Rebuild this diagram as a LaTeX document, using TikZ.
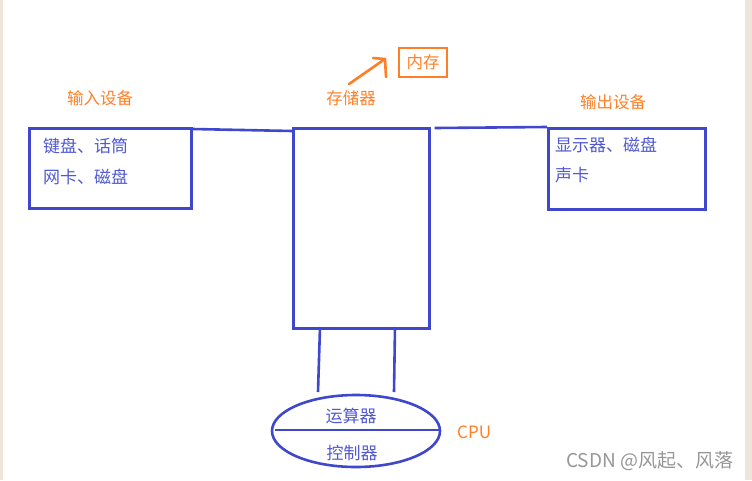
\documentclass[tikz,border=0pt]{standalone}
\usepackage{fontspec}
\setmainfont{Noto Sans CJK SC}
\usetikzlibrary{shapes.geometric}
\definecolor{pblue}{RGB}{63,72,204}
\definecolor{tblue}{RGB}{80,88,210}
\definecolor{porange}{RGB}{255,127,39}
\definecolor{beige}{RGB}{236,231,218}
\definecolor{wmgray}{RGB}{150,150,150}
\tikzset{
  box/.style={draw=pblue, line width=2.6pt, anchor=north west, inner sep=0pt},
  wire/.style={draw=pblue, line width=2.6pt},
  btext/.style={text=tblue, font=\fontsize{17}{19}\selectfont, anchor=west, inner sep=0pt},
  otext/.style={text=porange, font=\fontsize{16.5}{18}\selectfont, inner sep=0pt},
}
\begin{document}
\begin{tikzpicture}[x=1pt,y=-1pt]
\useasboundingbox (0,0) rectangle (752,480);
\fill[beige] (0,0) rectangle (3,480);
\fill[beige] (745,0) rectangle (752,480);
% boxes
\node[box, minimum width=162pt, minimum height=80pt] (in) at (28,127) {};
\node[box, minimum width=136pt, minimum height=200pt] (mem) at (292,127) {};
\node[box, minimum width=157pt, minimum height=81pt] (out) at (547,127) {};
% texts
\node[btext] (t1) at (43,146) {键盘、话筒};
\node[btext] (t2) at (43,177) {网卡、磁盘};
\node[btext] (t3) at (555,145) {显示器、磁盘};
\node[btext] (t4) at (555,175) {声卡};
\node[otext] (l1) at (100,98) {输入设备};
\node[otext] (l2) at (351,98) {存储器};
\node[otext] (l3) at (613,102) {输出设备};
% memory label box
\node[otext, draw=porange, line width=2.6pt, minimum width=48pt, minimum height=29pt] (nc) at (423,62.5) {内存};
% arrow
\coordinate (a0) at (349,84);
\coordinate (a1) at (385,59);
\coordinate (a2) at (373,58);
\coordinate (a3) at (386,77);
\draw[porange, line width=2.6pt, line cap=round] (a0) -- (a1);
\draw[porange, line width=2.6pt, line cap=round, line join=round] (a2) -- (a1) -- (a3);
% connectors
\draw[wire] ([yshift=-2pt]in.north east) -- ([yshift=-4pt]mem.north west);
\draw[wire] ([xshift=4pt,yshift=-1pt]mem.north east) -- (out.north west);
% cpu
\node[draw=pblue, line width=2.6pt, ellipse, minimum width=168pt, minimum height=72pt, inner sep=0pt] (cpu) at (356,431) {};
\coordinate (ew) at (275,430);
\coordinate (ee) at (440,430);
\draw[wire] (ew) -- (ee);
\coordinate (v1a) at (320,327);
\coordinate (v1b) at (318,392);
\coordinate (v2a) at (395,327);
\coordinate (v2b) at (394,392);
\draw[wire] (v1a) -- (v1b);
\draw[wire] (v2a) -- (v2b);
\node[btext, anchor=center] (ys) at (351,416) {运算器};
\node[btext, anchor=center] (kz) at (352,453) {控制器};
\node[otext, font=\fontsize{17}{19}\selectfont, anchor=west] (cpul) at (457,432) {CPU};
\node[text=wmgray, font=\fontsize{19}{21}\selectfont, anchor=west, inner sep=0pt] (wm) at (566,461) {CSDN @风起、风落};
\end{tikzpicture}
\end{document}
